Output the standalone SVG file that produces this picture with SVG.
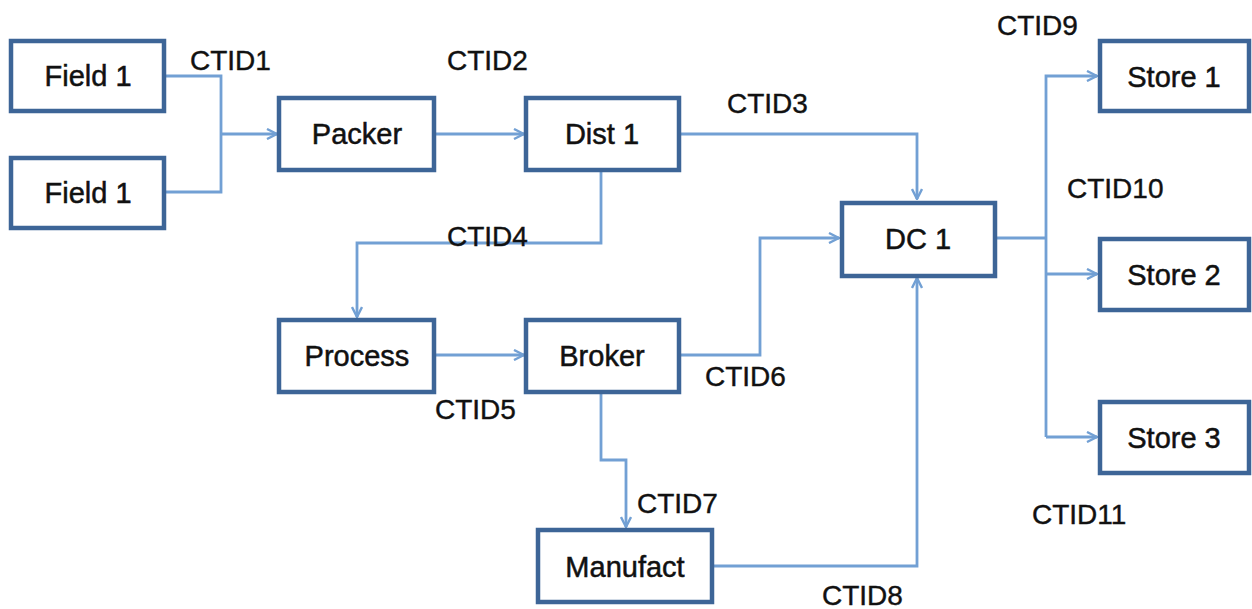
<svg xmlns="http://www.w3.org/2000/svg" width="1252" height="609" viewBox="0 0 1252 609">
  <style>
    .box { fill: #ffffff; stroke: #3d6597; stroke-width: 4.5; }
    .lbl { font-family: "Liberation Sans", Arial, sans-serif; font-size: 29px; fill: #111111; stroke: #111111; stroke-width: 0.5; text-anchor: middle; }
    .tag { font-family: "Liberation Sans", Arial, sans-serif; font-size: 28px; fill: #111111; stroke: #111111; stroke-width: 0.4; }
    .wire { fill: none; stroke: #72a0d4; stroke-width: 2.8; }
  </style>
  <defs>
    <marker id="chev" viewBox="0 0 12 12" refX="11" refY="6" markerWidth="12" markerHeight="12" markerUnits="userSpaceOnUse" orient="auto">
      <path d="M1,1 L11,6 L1,11" fill="none" stroke="#72a0d4" stroke-width="2.4"/>
    </marker>
  </defs>

  <!-- connectors -->
  <g id="connectors">
    <path class="wire" d="M165,76 H221 V192 H165"/>
    <path class="wire" d="M221,134 H277" marker-end="url(#chev)"/>
    <path class="wire" d="M435,134 H524" marker-end="url(#chev)"/>
    <path class="wire" d="M680,134 H917 V199" marker-end="url(#chev)"/>
    <path class="wire" d="M601,171 V243 H357 V317" marker-end="url(#chev)"/>
    <path class="wire" d="M435,355 H524" marker-end="url(#chev)"/>
    <path class="wire" d="M680,355 H760 V238 H839" marker-end="url(#chev)"/>
    <path class="wire" d="M601,393 V460 H626 V527" marker-end="url(#chev)"/>
    <path class="wire" d="M713,566 H917 V278" marker-end="url(#chev)"/>
    <path class="wire" d="M997,238 H1046"/>
    <path class="wire" d="M1046,437 V76 H1097" marker-end="url(#chev)"/>
    <path class="wire" d="M1046,274 H1097" marker-end="url(#chev)"/>
    <path class="wire" d="M1046,437 H1097" marker-end="url(#chev)"/>
  </g>

  <!-- nodes -->
  <g id="field1a"><rect class="box" x="11" y="41" width="153" height="70"/><text class="lbl" x="88" y="86">Field 1</text></g>
  <g id="field1b"><rect class="box" x="11" y="158" width="153" height="70"/><text class="lbl" x="88" y="203">Field 1</text></g>
  <g id="packer"><rect class="box" x="279" y="98" width="155" height="72"/><text class="lbl" x="357" y="144">Packer</text></g>
  <g id="dist1"><rect class="box" x="526" y="98" width="153" height="72"/><text class="lbl" x="602" y="144">Dist 1</text></g>
  <g id="dc1"><rect class="box" x="842" y="203" width="153" height="73"/><text class="lbl" x="918" y="249">DC 1</text></g>
  <g id="process"><rect class="box" x="279" y="320" width="155" height="72"/><text class="lbl" x="357" y="366">Process</text></g>
  <g id="broker"><rect class="box" x="526" y="320" width="153" height="72"/><text class="lbl" x="602" y="366">Broker</text></g>
  <g id="manufact"><rect class="box" x="538" y="530" width="174" height="72"/><text class="lbl" x="625" y="577">Manufact</text></g>
  <g id="store1"><rect class="box" x="1100" y="41" width="149" height="70"/><text class="lbl" x="1174" y="87">Store 1</text></g>
  <g id="store2"><rect class="box" x="1100" y="239" width="149" height="71"/><text class="lbl" x="1174" y="285">Store 2</text></g>
  <g id="store3"><rect class="box" x="1100" y="402" width="149" height="71"/><text class="lbl" x="1174" y="448">Store 3</text></g>

  <!-- connector tags -->
  <g id="tags">
    <text class="tag" x="190" y="70">CTID1</text>
    <text class="tag" x="447" y="70">CTID2</text>
    <text class="tag" x="727" y="113">CTID3</text>
    <text class="tag" x="447" y="246">CTID4</text>
    <text class="tag" x="435" y="419">CTID5</text>
    <text class="tag" x="705" y="386">CTID6</text>
    <text class="tag" x="637" y="513">CTID7</text>
    <text class="tag" x="822" y="605">CTID8</text>
    <text class="tag" x="997" y="35">CTID9</text>
    <text class="tag" x="1067" y="198">CTID10</text>
    <text class="tag" x="1032" y="524">CTID11</text>
  </g>
</svg>
